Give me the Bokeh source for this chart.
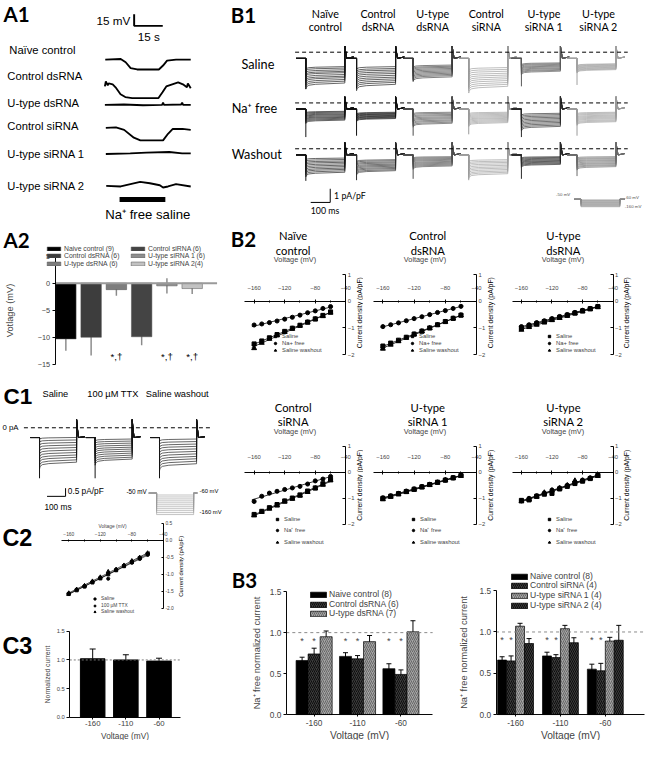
import math
import numpy as np
from bokeh.plotting import figure
from bokeh.models import (Range1d, LinearAxis, FixedTicker, Label, Legend, LegendItem,
                          Whisker, TeeHead, ColumnDataSource, PrintfTickFormatter)
from bokeh.layouts import row, column
from bokeh.core.properties import value
from bokeh.embed import file_html
from bokeh.resources import INLINE

ARIAL = "Liberation Sans"
CAL = "Lato"

# ======================= DATA =======================
# A1: membrane potential traces (time in s, change in mV)
A1_NAMES = ["Naïve control", "Control dsRNA", "U-type dsRNA", "Control siRNA", "U-type siRNA 1", "U-type siRNA 2"]
A1_T_NAIVE = [0.2, 8.3, 10.9, 13.5, 16.9, 28.3, 30.5, 32.6, 37.3, 45.0]
A1_V_NAIVE = [0.4, 1.3, -2.9, -10.4, -12.1, -12.1, -7.1, -0.8, 0.4, 0.4]
A1_T_CDS = [0.0, 0.5, 1.5, 2.0, 4.1, 5.6, 8.2, 10.7, 14.3, 28.1, 30.2, 32.2, 35.3, 38.4, 40.9, 43.0, 43.5, 45.0]
A1_V_CDS = [-1.3, 5.0, 0.0, 2.5, 1.3, -2.5, -11.3, -15.0, -16.3, -16.3, -8.8, -1.3, 1.3, 3.8, 1.3, -2.5, 2.5, -3.8]
A1_T_UDS = [0.0, 10.0, 20.0, 30.0, 30.5, 31.0, 40.0, 40.5, 41.0, 45.0]
A1_V_UDS = [0.0, 0.5, -0.5, 0.0, 3.0, 0.0, 0.5, 3.0, 0.0, 0.0]
A1_T_CSI = [0.5, 5.8, 10.1, 15.2, 18.6, 30.5, 33.1, 35.6, 40.7, 45.0]
A1_V_CSI = [-0.8, 0.0, -3.3, -13.3, -16.7, -16.7, -8.3, -2.1, -2.1, -3.3]
A1_T_US1 = [0.5, 13.3, 21.8, 33.7, 40.5, 45.0]
A1_V_US1 = [-0.4, 0.4, 1.3, 2.1, 0.4, 0.4]
A1_T_US2 = [0.7, 8.3, 13.4, 18.5, 23.6, 28.8, 30.5, 33.1, 37.3, 45.0]
A1_V_US2 = [0.0, -0.8, 2.1, 5.0, 3.3, 0.8, -2.1, -0.8, 2.1, -0.8]
A1_TIMES = [A1_T_NAIVE, A1_T_CDS, A1_T_UDS, A1_T_CSI, A1_T_US1, A1_T_US2]
A1_VOLTS = [A1_V_NAIVE, A1_V_CDS, A1_V_UDS, A1_V_CSI, A1_V_US1, A1_V_US2]
NA_FREE_ON, NA_FREE_OFF = 7.7, 31.7
A1_SCALE_MV, A1_SCALE_S = 15, 15

# B1: current families (pA/pF) for steps -60 ... -160 mV
B1_HEAD1 = ["Naïve", "Control", "U-type", "Control", "U-type", "U-type"]
B1_HEAD2 = ["control", "dsRNA", "dsRNA", "siRNA", "siRNA 1", "siRNA 2"]
B1_ROWS = ["Saline", "Na⁺ free", "Washout"]
B1_SAL = [
    [-1.10, -1.21, -1.34, -1.46, -1.56, -1.70, -1.83, -1.94, -2.08, -2.21, -2.35],
    [-1.10, -1.24, -1.36, -1.49, -1.62, -1.76, -1.90, -2.03, -2.17, -2.30, -2.45],
    [-0.98, -1.07, -1.15, -1.24, -1.33, -1.42, -1.51, -1.60, -1.69, -1.78, -1.88],
    [-1.17, -1.31, -1.45, -1.60, -1.74, -1.88, -2.02, -2.16, -2.31, -2.45, -2.60],
    [-0.81, -0.87, -0.93, -1.00, -1.06, -1.12, -1.19, -1.25, -1.32, -1.38, -1.45],
    [-0.88, -0.92, -0.97, -1.01, -1.06, -1.10, -1.15, -1.19, -1.24, -1.28, -1.33]]
B1_NAF = [
    [-0.64, -0.70, -0.77, -0.84, -0.90, -0.97, -1.04, -1.10, -1.17, -1.24, -1.31],
    [-0.71, -0.76, -0.81, -0.85, -0.90, -0.95, -1.00, -1.04, -1.09, -1.14, -1.19],
    [-0.71, -0.79, -0.88, -0.96, -1.05, -1.13, -1.21, -1.30, -1.38, -1.47, -1.55],
    [-0.71, -0.79, -0.87, -0.95, -1.03, -1.11, -1.18, -1.26, -1.34, -1.42, -1.50],
    [-0.79, -0.89, -0.99, -1.09, -1.19, -1.29, -1.39, -1.49, -1.59, -1.69, -1.79],
    [-0.71, -0.78, -0.85, -0.93, -1.00, -1.07, -1.14, -1.21, -1.29, -1.36, -1.43]]
B1_WASH = [
    [-0.71, -0.82, -0.93, -1.03, -1.14, -1.25, -1.36, -1.47, -1.57, -1.68, -1.79],
    [-0.83, -0.91, -1.00, -1.08, -1.17, -1.25, -1.33, -1.42, -1.50, -1.59, -1.67],
    [-0.60, -0.67, -0.74, -0.81, -0.88, -0.96, -1.03, -1.10, -1.17, -1.24, -1.31],
    [-0.83, -0.94, -1.04, -1.15, -1.26, -1.37, -1.47, -1.58, -1.69, -1.79, -1.90],
    [-0.60, -0.66, -0.72, -0.78, -0.84, -0.90, -0.95, -1.01, -1.07, -1.13, -1.19],
    [-0.60, -0.68, -0.75, -0.83, -0.90, -0.98, -1.06, -1.13, -1.21, -1.28, -1.36]]
B1_SPIKE = [[-2.70, -2.65, -2.10, -2.60, -2.50, -2.40],
            [-2.50, -2.40, -2.40, -2.30, -2.50, -2.40],
            [-2.35, -2.30, -2.20, -2.30, -2.20, -2.00]]
B1_COLORS = [["#141414", "#141414", "#3d3d3d", "#9a9a9a", "#5a5a5a", "#a0a0a0"],
             ["#141414", "#111111", "#4d4d4d", "#9a9a9a", "#2a2a2a", "#9a9a9a"],
             ["#141414", "#2a2a2a", "#4d4d4d", "#9a9a9a", "#2a2a2a", "#6a6a6a"]]
B1_STEP_MS = 200
B1_HOLD_I = -0.45
B1_POST_I = [0.45, 0.05, -0.45, -0.35]
STEP_T = [0, 3, 15, 50]
STEP_F = [1.15, 1.08, 1.03, 1.0, 0.96]
POST_T = [0, 4, 10, 45]
PROT_HOLD = -50
PROT_STEPS = [-60, -70, -80, -90, -100, -110, -120, -130, -140, -150, -160]

# C1: families (pA/pF) saline / TTX / washout
C1_HEADS = ["Saline", "100 µM TTX", "Saline washout"]
C1_SAL = [-0.62, -0.78, -0.94, -1.10, -1.26, -1.42, -1.58, -1.74, -1.89, -2.05, -2.20]
C1_TTX = [-0.72, -0.85, -0.98, -1.11, -1.24, -1.36, -1.49, -1.62, -1.75, -1.88, -2.00]
C1_WASH = [-0.72, -0.88, -1.04, -1.19, -1.35, -1.51, -1.67, -1.83, -1.98, -2.14, -2.30]
C1_SPIKE = [-3.1, -3.1, -3.1]
C1_STEP_MS = 200
C1_HOLD_I = -0.6
C1_POST_I = [0.5, 0.0, -0.6, -0.55]

# A2: Na-free induced voltage change
A2_NAMES = ["Naive control (9)", "Control dsRNA (6)", "U-type dsRNA (6)",
            "Control siRNA (6)", "U-type siRNA 1 (6)", "U-type siRNA 2(4)"]
A2_MEAN = [-10.3, -10.0, -1.2, -9.9, -0.5, -1.0]
A2_ERR = [2.2, 3.35, 1.15, 1.55, 1.4, 1.0]
A2_COLORS = ["#000000", "#3d3d3d", "#7d7d7d", "#444444", "#8e8e8e", "#c2c2c2"]
A2_SIG = ["", "", "*,†", "", "*,†", "*,†"]

# B2: I-V relations (pA/pF)
IV_V = [-160, -150, -140, -130, -120, -110, -100, -90, -80, -70, -60]
B2_T1 = ["Naïve", "Control", "U-type", "Control", "U-type", "U-type"]
B2_T2 = ["control", "dsRNA", "dsRNA", "siRNA", "siRNA 1", "siRNA 2"]
B2_SAL = [
    [-1.60, -1.49, -1.37, -1.25, -1.13, -1.01, -0.90, -0.78, -0.66, -0.53, -0.40],
    [-1.68, -1.57, -1.46, -1.35, -1.23, -1.12, -1.00, -0.88, -0.76, -0.64, -0.52],
    [-1.00, -0.92, -0.84, -0.76, -0.68, -0.60, -0.52, -0.44, -0.36, -0.28, -0.20],
    [-1.62, -1.50, -1.36, -1.24, -1.10, -0.99, -0.87, -0.72, -0.60, -0.44, -0.28],
    [-1.00, -0.92, -0.82, -0.74, -0.65, -0.56, -0.47, -0.38, -0.30, -0.21, -0.12],
    [-1.08, -1.06, -0.92, -0.84, -0.81, -0.64, -0.54, -0.43, -0.34, -0.24, -0.12]]
B2_NAF = [
    [-0.89, -0.85, -0.80, -0.74, -0.67, -0.60, -0.52, -0.43, -0.36, -0.27, -0.20],
    [-0.95, -0.88, -0.81, -0.73, -0.65, -0.58, -0.50, -0.42, -0.35, -0.27, -0.19],
    [-0.95, -0.88, -0.80, -0.73, -0.65, -0.57, -0.50, -0.42, -0.34, -0.27, -0.19],
    [-1.12, -0.92, -0.80, -0.73, -0.66, -0.60, -0.54, -0.45, -0.33, -0.26, -0.16],
    [-0.98, -0.90, -0.81, -0.72, -0.64, -0.55, -0.46, -0.38, -0.29, -0.21, -0.12],
    [-1.10, -1.00, -0.90, -0.80, -0.68, -0.60, -0.50, -0.40, -0.30, -0.21, -0.11]]
B2_WASH = [
    [-1.76, -1.56, -1.41, -1.28, -1.15, -1.03, -0.92, -0.80, -0.68, -0.56, -0.43],
    [-1.78, -1.63, -1.50, -1.37, -1.25, -1.13, -1.01, -0.89, -0.77, -0.65, -0.53],
    [-1.07, -0.97, -0.88, -0.80, -0.71, -0.63, -0.55, -0.46, -0.38, -0.30, -0.22],
    [-1.66, -1.52, -1.40, -1.28, -1.13, -1.02, -0.90, -0.76, -0.62, -0.48, -0.31],
    [-1.04, -0.94, -0.85, -0.76, -0.67, -0.58, -0.49, -0.40, -0.31, -0.23, -0.14],
    [-1.12, -1.04, -0.94, -0.78, -0.70, -0.62, -0.50, -0.32, -0.32, -0.24, -0.14]]

# C2: I-V with TTX
C2_SAL = [-1.58, -1.47, -1.36, -1.24, -1.12, -1.00, -0.88, -0.76, -0.64, -0.52, -0.40]
C2_TTX = [-1.57, -1.45, -1.35, -1.22, -1.10, -1.13, -0.87, -0.75, -0.66, -0.55, -0.43]
C2_WASH = [-1.55, -1.44, -1.33, -1.20, -1.08, -0.92, -0.85, -0.73, -0.60, -0.50, -0.37]

# C3: normalized current
C3_VOLT = ["-160", "-110", "-60"]
C3_MEAN = [1.02, 1.00, 0.98]
C3_ERR = [0.17, 0.09, 0.05]

# B3: Na-free normalized current
B3_VOLT = ["-160", "-110", "-60"]
B3L_NAMES = ["Naive control (8)", "Control dsRNA (6)", "U-type dsRNA (7)"]
B3L_MEAN = [[0.66, 0.71, 0.56], [0.74, 0.68, 0.49], [0.95, 0.89, 1.01]]
B3L_ERR = [[0.04, 0.045, 0.06], [0.07, 0.04, 0.055], [0.07, 0.075, 0.135]]
B3R_NAMES = ["Naive control (8)", "Control siRNA (4)", "U-type siRNA 1 (4)", "U-type siRNA 2 (4)"]
B3R_MEAN = [[0.66, 0.71, 0.55], [0.65, 0.69, 0.53], [1.07, 1.04, 0.89], [0.86, 0.87, 0.90]]
B3R_ERR = [[0.04, 0.045, 0.06], [0.06, 0.035, 0.09], [0.035, 0.04, 0.045], [0.06, 0.06, 0.18]]
B3_SIG_Y = 0.9

# ======================= HELPERS =======================
S = 0.9755


def R(v):
    return int(round(v * S))


def fs(v):
    return "%.2fpx" % (v * S)


class Panel:
    """A figure whose frame is the whole box; data <-> reference-pixel maps set the ranges."""

    def __init__(self, box, xmap, ymap):
        x0, y0, x1, y1 = box
        self.x0, self.y0, self.x1, self.y1 = box
        W = R(x1) - R(x0)
        H = R(y1) - R(y0)
        (p1, v1), (p2, v2) = xmap
        self.kx = (v2 - v1) / (p2 - p1)
        self.cx = v1 - p1 * self.kx
        (q1, u1), (q2, u2) = ymap
        self.ky = (u2 - u1) / (q2 - q1)
        self.cy = u1 - q1 * self.ky
        xr = Range1d(self.X(R(x0) / S), self.X(R(x1) / S))
        yr = Range1d(self.Y(R(y1) / S), self.Y(R(y0) / S))
        self.fig = figure(width=W, height=H, title=None, x_range=xr, y_range=yr,
                          min_border_left=0, min_border_right=0, min_border_top=0, min_border_bottom=0,
                          x_axis_type=None, y_axis_type=None, output_backend="svg", toolbar_location=None,
                          frame_align=False)
        f = self.fig
        f.outline_line_color = None
        f.background_fill_color = "white"
        f.border_fill_color = "white"

    def X(self, p):
        return self.cx + p * self.kx

    def Y(self, q):
        return self.cy + q * self.ky

    def text(self, px, py, s, size, font=ARIAL, bold=False, align="left", baseline="middle",
             color="black", angle=0.0):
        self.fig.add_layout(Label(x=self.X(px), y=self.Y(py), text=s, text_font=font,
                                  text_font_size=fs(size), text_font_style="bold" if bold else "normal",
                                  text_align=align, text_baseline=baseline, text_color=color, angle=angle))

    def legend_rows(self, items, left_px, centers, size, gw, gh, standoff, font=ARIAL):
        h = max(gh, 1.17 * size)
        for item, c in zip(items, centers):
            leg = Legend(items=[item], location=(R(left_px) - R(self.x0), R(self.y1) - R(c + h / 2.0)),
                         orientation="vertical", background_fill_alpha=0.0, border_line_alpha=0.0,
                         padding=0, margin=0, spacing=0, glyph_width=R(gw), glyph_height=R(gh),
                         label_height=R(gh), label_standoff=R(standoff), label_text_font=font,
                         label_text_font_size=fs(size))
            self.fig.add_layout(leg)


def axis_style(ax, tick_size, lab_size, tick_standoff, lab_standoff):
    ax.major_label_text_font = ARIAL
    ax.major_label_text_font_size = fs(tick_size)
    ax.major_label_standoff = R(tick_standoff)
    ax.axis_label_text_font = ARIAL
    ax.axis_label_text_font_size = fs(lab_size)
    ax.axis_label_text_font_style = "normal"
    ax.axis_label_standoff = R(lab_standoff)
    ax.axis_line_width = 1.0 * S
    ax.major_tick_line_width = 1.0 * S
    ax.minor_tick_line_width = 1.0 * S


def family(t0, base, levels, pre, post_i, dur):
    xs, ys = [], []
    for L in levels:
        xs.append([t0 - 50, t0] + [t0 + t for t in STEP_T] + [t0 + dur] + [t0 + dur + t for t in POST_T])
        ys.append([base + pre, base + pre] + [base + L * k for k in STEP_F] + [base + v for v in post_i])
    return xs, ys


# ======================= A1 =======================
A1 = Panel((0, 0, 230, 230), ((107, 0.0), (195, 45.0)), ((0, 0.0), (100, -125.0)))
f = A1.fig
A1_BASE = [61, 87, 107, 130, 157, 190]
A1_LAB_Y = [51, 77, 105, 129, 157, 190]
for i in range(6):
    b = A1.Y(A1_BASE[i])
    f.line(A1_TIMES[i], [b + v for v in A1_VOLTS[i]], line_color="black", line_width=1.9 * S)
    A1.text(9 if i == 0 else 7, A1_LAB_Y[i], A1_NAMES[i], 11.5)
sbx, sby = A1.X(137), A1.Y(26)
f.line([sbx, sbx, sbx + A1_SCALE_S], [sby + A1_SCALE_MV, sby, sby], line_color="black", line_width=2 * S)
f.line([NA_FREE_ON, NA_FREE_OFF], [A1.Y(204), A1.Y(204)], line_color="black", line_width=5 * S, line_cap="butt")
A1.text(133, 21, "15 mV", 12, align="right")
A1.text(152, 37, "15 s", 12, align="center")
A1.text(151, 219, "Na⁺ free saline", 13.5, align="center")
A1.text(3, 2, "A1", 21, font=CAL, bold=True, baseline="top")

# ======================= B1 =======================
B1 = Panel((230, 0, 661, 220), ((313, 0.0), (333, 100.0)), ((53, 0.0), (67, -1.0)))
f = B1.fig
B1_ONSET_PX = [313, 365, 423, 480, 534, 591]
B1_ROW_PX = [53, 105, 152]
B1_LEVELS = [B1_SAL, B1_NAF, B1_WASH]
for r in range(3):
    base = B1.Y(B1_ROW_PX[r])
    for c in range(6):
        t0 = B1.X(B1_ONSET_PX[c])
        xs, ys = family(t0, base, B1_LEVELS[r][c], B1_HOLD_I, B1_POST_I, B1_STEP_MS)
        f.multi_line(xs, ys, line_color=B1_COLORS[r][c], line_width=0.65)
        f.line([t0, t0], [base + B1_HOLD_I, base + B1_SPIKE[r][c]], line_color=B1_COLORS[r][c], line_width=1.0)
    f.line([B1.X(302), B1.X(643)], [base, base], line_color="black", line_width=1.0, line_dash="4 3")
    B1.text(247 if r == 0 else 237, [65, 110, 157][r], B1_ROWS[r], 13, font=CAL)
for c, xc in enumerate([333, 387, 443, 498, 557, 613]):
    B1.text(xc, 13, B1_HEAD1[c], 11, font=CAL, align="center")
    B1.text(xc, 27, B1_HEAD2[c], 11, font=CAL, align="center")
B1.text(236, 3, "B1", 21, font=CAL, bold=True, baseline="top")
sx, sy = B1.X(338), B1.Y(207)
f.line([sx - 100, sx, sx], [sy, sy, sy + 1.0], line_color="black", line_width=1.0)
B1.text(342, 200, "1 pA/pF", 9, font=CAL)
B1.text(318, 215, "100 ms", 9, font=CAL)


def PYb(py):
    return PROT_STEPS[0] + (py - 204) * (PROT_STEPS[-1] - PROT_STEPS[0]) / (211 - 204)


f.extra_y_ranges = {"prot": Range1d(PYb(220), PYb(0))}
ta, tb = B1.X(588), B1.X(595)
f.multi_line([[ta, tb, tb, tb + B1_STEP_MS, tb + B1_STEP_MS, tb + B1_STEP_MS + 25] for v in PROT_STEPS],
             [[PROT_HOLD, PROT_HOLD, v, v, PROT_HOLD, PROT_HOLD] for v in PROT_STEPS],
             line_color="#8a8a8a", line_width=0.6, y_range_name="prot")
B1.text(584, 199, "-50 mV", 4.5, align="right", color="#555555")
B1.text(640, 202, "-60 mV", 4.5, color="#555555")
B1.text(640, 211, "-160 mV", 4.5, color="#555555")

# ======================= A2 =======================
A2 = Panel((0, 230, 230, 392), ((67, 0.0), (196.5, 5.0)), ((262, 5.0), (373, -15.0)))
f = A2.fig
src = ColumnDataSource(dict(x=list(range(len(A2_MEAN))), top=A2_MEAN, color=A2_COLORS,
                            up=[m + e for m, e in zip(A2_MEAN, A2_ERR)], lo=[m - e for m, e in zip(A2_MEAN, A2_ERR)]))
bars = f.vbar(x="x", top="top", bottom=0, width=0.81, fill_color="color", line_color="#505050",
              line_width=0.5, source=src)
f.add_layout(Whisker(source=src, base="x", upper="up", lower="lo", line_color="#8a8a8a", line_width=1.5 * S,
                     upper_head=None, lower_head=None))
f.line([A2.X(56), A2.X(222)], [0, 0], line_color="#9a9a9a", line_width=2 * S)
yax = LinearAxis(fixed_location=A2.X(56), ticker=FixedTicker(ticks=[-15, -10, -5, 0, 5]), bounds=(-15, 5),
                 axis_label="Votlage (mV)", major_tick_in=0, major_tick_out=R(3), minor_tick_in=0, minor_tick_out=0)
axis_style(yax, 7.5, 9.5, 2, 20)
f.add_layout(yax, "left")
for i, s in enumerate(A2_SIG):
    if s:
        f.add_layout(Label(x=i, y=-13.6, text=s, text_font=ARIAL, text_font_size=fs(10), text_align="center",
                           text_baseline="middle", text_color="black"))
A2_ROWS = [253.9, 261.7, 269.5]
A2.legend_rows([LegendItem(label=value(A2_NAMES[i]), renderers=[bars], index=i) for i in range(3)],
               46, A2_ROWS, 7.0, 17, 5, 2)
A2.legend_rows([LegendItem(label=value(A2_NAMES[i]), renderers=[bars], index=i) for i in range(3, 6)],
               132, A2_ROWS, 7.0, 17, 5, 2)
A2.text(3, 233, "A2", 21, font=CAL, bold=True, baseline="top")

# ======================= C1 =======================
C1 = Panel((0, 392, 230, 530), ((40, 0.0), (59, 100.0)), ((438, 0.0), (454.7, -1.0)))
f = C1.fig
C1_ONSET_PX = [40, 97, 163]
for k, lev in enumerate([C1_SAL, C1_TTX, C1_WASH]):
    t0 = C1.X(C1_ONSET_PX[k])
    xs, ys = family(t0, 0.0, lev, C1_HOLD_I, C1_POST_I, C1_STEP_MS)
    f.multi_line(xs, ys, line_color="#141414", line_width=0.65)
    f.line([t0, t0], [C1_HOLD_I, C1_SPIKE[k]], line_color="#141414", line_width=1.0)
f.line([C1.X(24), C1.X(216)], [0, 0], line_color="black", line_width=1.0, line_dash="4 3")
for k, xl in enumerate([43, 89, 149]):
    C1.text(xl, 403, C1_HEADS[k], 9.5)
C1.text(2, 438, "0 pA", 8)
C1.text(3, 393, "C1", 23, bold=True, baseline="top")
sx, sy = C1.X(66.7), C1.Y(508.3)
f.line([sx - 100, sx, sx], [sy, sy, sy + 0.5], line_color="black", line_width=1.0)
C1.text(69, 503, "0.5 pA/pF", 8.5)
C1.text(45, 519, "100 ms", 8.5)


def PYc(py):
    return PROT_STEPS[0] + (py - 507) * (PROT_STEPS[-1] - PROT_STEPS[0]) / (527 - 507)


f.extra_y_ranges = {"prot": Range1d(PYc(530), PYc(392))}
ta, tb = C1.X(152), C1.X(160)
f.multi_line([[ta, tb, tb, tb + C1_STEP_MS, tb + C1_STEP_MS, tb + C1_STEP_MS + 20] for v in PROT_STEPS],
             [[PROT_HOLD, PROT_HOLD, v, v, PROT_HOLD, PROT_HOLD] for v in PROT_STEPS],
             line_color="#9a9a9a", line_width=0.6, y_range_name="prot")
C1.text(150, 503, "-50 mV", 6.5, align="right")
C1.text(204, 503, "-60 mV", 6)
C1.text(204, 524, "-160 mV", 6)


# ======================= IV panels (B2, C2) =======================
def iv_content(P, left_px, sal, naf, wash, labels, y_ticks, y_bounds, y_fmt, msize, lw, tick_size, lab_size,
               tick_standoff, lab_standoff, leg_left, leg_rows, leg_size, leg_g, tick_len):
    f = P.fig
    xax = LinearAxis(fixed_location=0, bounds=(P.X(left_px), -40),
                     ticker=FixedTicker(ticks=[-160, -120, -80, -40], minor_ticks=[-140, -100, -60]),
                     axis_label="Voltage (mV)", major_tick_in=R(tick_len), major_tick_out=R(tick_len),
                     minor_tick_in=R(tick_len * 0.7), minor_tick_out=R(tick_len * 0.7))
    axis_style(xax, tick_size, lab_size, tick_standoff, lab_standoff)
    f.add_layout(xax, "above")
    yax = LinearAxis(fixed_location=-40, ticker=FixedTicker(ticks=y_ticks), bounds=y_bounds,
                     major_tick_in=R(tick_len * 1.4), major_tick_out=0, minor_tick_in=0, minor_tick_out=0)
    axis_style(yax, tick_size, lab_size, 2, 2)
    if y_fmt:
        yax.formatter = PrintfTickFormatter(format=y_fmt)
    f.add_layout(yax, "right")
    rends = []
    for data, mk, sz in ((sal, "square", msize), (naf, "circle", msize), (wash, "triangle", msize * 1.2)):
        r = f.scatter(IV_V, data, marker=mk, size=sz * S, fill_color="black", line_color="black")
        k, b = np.polyfit(IV_V, data, 1)
        f.line([-163, -57], [k * -163 + b, k * -57 + b], line_color="black", line_width=lw * S)
        rends.append(r)
    P.legend_rows([LegendItem(label=value(labels[i]), renderers=[rends[i]]) for i in range(3)],
                  leg_left, leg_rows, leg_size, leg_g, leg_g, 4)


B2_XGEO = [(230, 372, 250.6, 260, 354), (372, 514, 382.4, 392, 488), (514, 661, 524.6, 534, 628)]
B2_YGEO = [(220, 378, 281, 363), (378, 562, 457, 537)]
B2_TICK_SO = [9, 11]
B2_LAB_SO = [21, 17]
B2_T_Y = [(241, 256), (417, 432)]
B2_T_X = [300, 438, 577]
B2_LEG_ROWS = [[344, 351, 358], [532, 543.5, 555]]
B2_LEG_LEFT = [[279, 419, 560], [281, 420, 560]]
B2_YLAB_PY = [320, 497]
B2_LABELS = [["Saline", "Na+ free", "Saline washout"], ["Saline", "Na⁺ free", "Saline washout"]]
b2_figs = [[], []]
for idx in range(6):
    rw, col = divmod(idx, 3)
    x0, x1, fl, pa, pb = B2_XGEO[col]
    y0, y1, p1, p2 = B2_YGEO[rw]
    P = Panel((x0, y0, x1, y1), ((pa, -160.0), (pb, -40.0)), ((p1, 1.0), (p2, -2.0)))
    iv_content(P, fl, B2_SAL[idx], B2_NAF[idx], B2_WASH[idx], B2_LABELS[rw], [-2, -1, 0, 1], (-2, 1), None,
               4.2, 0.8, 6, 7.5, B2_TICK_SO[rw], B2_LAB_SO[rw], B2_LEG_LEFT[rw][col], B2_LEG_ROWS[rw],
               6.0, 6, 2)
    P.text(B2_T_X[col], B2_T_Y[rw][0], B2_T1[idx], 11.5, font=CAL, align="center")
    P.text(B2_T_X[col], B2_T_Y[rw][1], B2_T2[idx], 11.5, font=CAL, align="center")
    P.text(pb + 14, B2_YLAB_PY[rw], "Current density (pA/pF)", 7, align="center", angle=math.pi / 2)
    if idx == 0:
        P.text(236, 232, "B2", 21, font=CAL, bold=True, baseline="top")
    b2_figs[rw].append(P.fig)

C2 = Panel((0, 530, 230, 633), ((70, -160.0), (167, -40.0)), ((536, 0.5), (623, -2.0)))
iv_content(C2, 63, C2_SAL, C2_TTX, C2_WASH, ["Saline", "100 µM TTX", "Saline washout"],
           [-2.0, -1.5, -1.0, -0.5, 0.0, 0.5], (-2, 0.5), "%.1f", 3.2, 0.7, 5, 5, 3, 1, 94, [613, 620, 627],
           5, 5, 1.5)
C2.text(185, 580, "Current density (pA/pF)", 6, align="center", angle=math.pi / 2)
C2.text(2, 538, "C2", 24, bold=True, baseline="top")

# ======================= C3 =======================
C3 = Panel((0, 633, 230, 759), ((94.5, 0.0), (162.5, 2.0)), ((735, 0.0), (676, 1.0)))
f = C3.fig
src = ColumnDataSource(dict(x=list(range(3)), top=C3_MEAN, lo=C3_MEAN,
                            up=[m + e for m, e in zip(C3_MEAN, C3_ERR)]))
f.vbar(x="x", top="top", bottom=0, width=0.74, fill_color="black", line_color="black", source=src)
f.add_layout(Whisker(source=src, base="x", upper="up", lower="lo", line_color="black", line_width=1.0 * S,
                     upper_head=TeeHead(size=R(6), line_color="black", line_width=1.0 * S), lower_head=None))
f.line([C3.X(71), C3.X(185)], [1.0, 1.0], line_color="#777777", line_width=1.0 * S, line_dash="2 2")
yax = LinearAxis(fixed_location=C3.X(71), bounds=(0, 1.5), ticker=FixedTicker(ticks=[0, 0.5, 1.0, 1.5]),
                 formatter=PrintfTickFormatter(format="%.1f"), axis_label="Normalized current",
                 major_tick_in=0, major_tick_out=R(3), minor_tick_in=0, minor_tick_out=0)
axis_style(yax, 6, 7, 2, 2)
f.add_layout(yax, "left")
xax = LinearAxis(fixed_location=0, bounds=(C3.X(71), C3.X(185)), ticker=FixedTicker(ticks=[0, 1, 2]),
                 major_label_overrides={i: v for i, v in enumerate(C3_VOLT)}, axis_label="Voltage (mV)",
                 major_tick_in=0, major_tick_out=R(2), minor_tick_in=0, minor_tick_out=0)
axis_style(xax, 8, 8.5, 2, 1)
f.add_layout(xax, "below")
C3.text(2, 648, "C3", 24, bold=True, baseline="top")


# ======================= B3 =======================
def b3_panel(box, area, xmap, ymap, names, means, errs, fills, hatches, hcolors, width, leg_left, leg_rows,
             ylab_so):
    P = Panel(box, xmap, ymap)
    f = P.fig
    al, ar = area
    n = len(names)
    offs = [(k - (n - 1) / 2.0) * width for k in range(n)]
    rends = []
    for k in range(n):
        xs = [i + offs[k] for i in range(len(B3_VOLT))]
        src = ColumnDataSource(dict(x=xs, top=means[k], up=[m + e for m, e in zip(means[k], errs[k])],
                                    lo=[m - e for m, e in zip(means[k], errs[k])]))
        r = f.vbar(x="x", top="top", bottom=0, width=width, source=src, fill_color=fills[k],
                   line_color="black", line_width=0.7 * S, hatch_pattern=hatches[k], hatch_color=hcolors[k],
                   hatch_scale=R(4.5), hatch_weight=0.8 * S)
        f.add_layout(Whisker(source=src, base="x", upper="up", lower="lo", line_color="black", line_width=1.0 * S,
                             upper_head=TeeHead(size=R(5), line_color="black", line_width=1.0 * S),
                             lower_head=TeeHead(size=R(5), line_color="black", line_width=1.0 * S)))
        rends.append(r)
        if k < 2:
            for x in xs:
                f.add_layout(Label(x=x, y=B3_SIG_Y, text="*", text_font=ARIAL, text_font_size=fs(9.5),
                                   text_align="center", text_baseline="middle"))
    f.line([P.X(al), P.X(ar)], [1.0, 1.0], line_color="#888888", line_width=1.0 * S, line_dash="3 3")
    yax = LinearAxis(fixed_location=P.X(al), bounds=(0, 1.5), ticker=FixedTicker(ticks=[0, 0.5, 1.0, 1.5]),
                     formatter=PrintfTickFormatter(format="%.1f"), axis_label="Na⁺ free normalized current",
                     major_tick_in=0, major_tick_out=R(3), minor_tick_in=0, minor_tick_out=0)
    axis_style(yax, 8.5, 9.5, 2, ylab_so)
    f.add_layout(yax, "left")
    xax = LinearAxis(fixed_location=0, bounds=(P.X(al), P.X(ar)), ticker=FixedTicker(ticks=[0, 1, 2]),
                     major_label_overrides={i: v for i, v in enumerate(B3_VOLT)}, axis_label="Voltage (mV)",
                     major_tick_in=0, major_tick_out=R(2), minor_tick_in=0, minor_tick_out=0)
    axis_style(xax, 8.5, 10.5, 3, 1)
    f.add_layout(xax, "below")
    P.legend_rows([LegendItem(label=value(names[k]), renderers=[rends[k]]) for k in range(n)],
                  leg_left, leg_rows, 8.8, 21, 7, 1.5)
    return P


B3L = b3_panel((230, 562, 445, 759), (293, 443), ((321.5, 0.0), (410.5, 2.0)), ((732, 0.0), (606, 1.5)),
               B3L_NAMES, B3L_MEAN, B3L_ERR, ["#000000", "#3c3c3c", "#a4a4a4"], [None, "/", "/"],
               ["black", "black", "#555555"], 0.277, 316, [609.2, 619, 628.8], 5)
B3L.text(237, 582, "B3", 21, font=CAL, bold=True, baseline="top")
B3R = b3_panel((445, 562, 661, 759), (508, 660), ((528, 0.0), (620, 2.0)), ((732, 0.0), (605, 1.5)),
               B3R_NAMES, B3R_MEAN, B3R_ERR, ["#000000", "#3c3c3c", "#a4a4a4", "#3c3c3c"], [None, "/", "/", "\\"],
               ["black", "black", "#555555", "black"], 0.2, 522, [590.2, 600.1, 609.9, 619.8], 8)

left = column(A1.fig, A2.fig, C1.fig, C2.fig, C3.fig)
right = column(B1.fig, row(*b2_figs[0]), row(*b2_figs[1]), row(B3L.fig, B3R.fig))
layout = row(left, right)
open("out.html", "w").write(file_html(layout, INLINE))
